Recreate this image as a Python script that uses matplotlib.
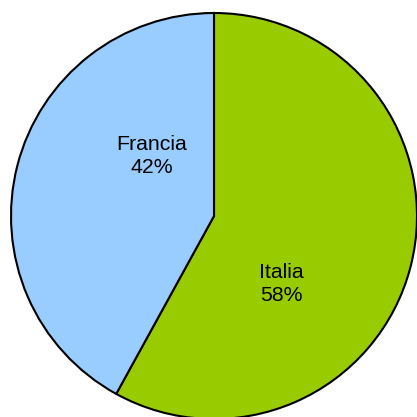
import matplotlib
matplotlib.use("Agg")
import matplotlib.pyplot as plt

categories = ["Italia", "Francia"]
values = [58, 42]
colors = ["#99CC00", "#99CCFF"]

plt.rcParams['font.family'] = ['Liberation Sans', 'DejaVu Sans']

W = H = 417
cx, cy, R = 214, 216, 203

fig = plt.figure(figsize=(W / 100, H / 100), dpi=100)
ax = fig.add_axes([0, 0, 1, 1])
wedges, _ = ax.pie(values, colors=colors, startangle=90, counterclock=False,
                   radius=1.0,
                   wedgeprops=dict(edgecolor="black", linewidth=1.5))
ax.set_xlim(-cx / R, (W - cx) / R)
ax.set_ylim(-(H - cy) / R, cy / R)
ax.set_aspect("equal")
ax.axis("off")

label_pos = {"Italia": (0.33, -0.335), "Francia": (-0.305, 0.295)}
total = sum(values)
for cat, v in zip(categories, values):
    x, y = label_pos[cat]
    ax.text(x, y, f"{cat}\n{round(100 * v / total)}%", ha="center", va="center",
            fontsize=15.3, linespacing=1.25, color="black")

fig.savefig("out.png", dpi=100)
